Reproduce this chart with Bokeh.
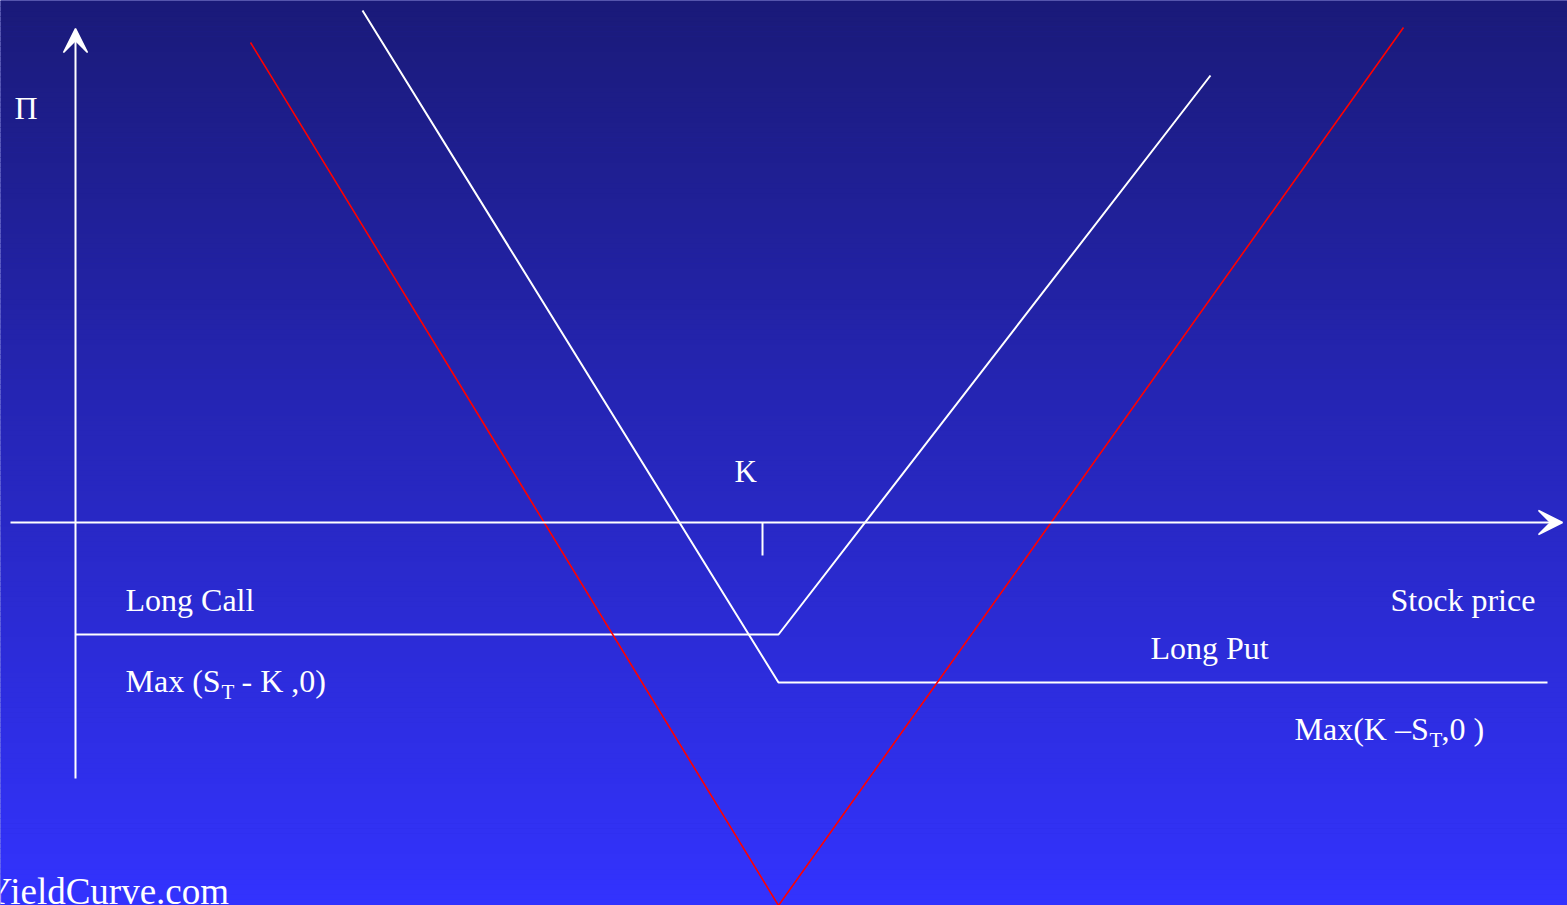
import numpy as np
from bokeh.plotting import figure
from bokeh.models import Range1d, Arrow, VeeHead
from bokeh.core.properties import value
from bokeh.embed import file_html
from bokeh.resources import INLINE

# ---- data (x = stock price units, y = payoff units) ----
axis_x = [10, 1562]                      # horizontal (stock price) axis extent
axis_y_bottom, axis_y_top = -256, 494    # vertical (payoff) axis extent
yaxis_x = 75
strike_x = 762
strike_tick = [0, -33]

call_x = [75, 778, 1210]
call_y = [-112, -112, 447]

put_x = [362, 778, 1547]
put_y = [512, -160, -160]

straddle_x = [250, 778, 1403]
straddle_y = [480, -383, 495]

top_color = np.array([26, 26, 120])
bottom_color = np.array([51, 51, 255])

FONT = value("Liberation Serif")

W, H = 1567, 905
Y0 = 522  # payoff zero line, in screen pixels from top
p = figure(width=W, height=H, output_backend="svg", toolbar_location=None,
           x_range=Range1d(0, W), y_range=Range1d(Y0 - H, Y0),
           min_border=0, min_border_left=0, min_border_right=0,
           min_border_top=0, min_border_bottom=0)
p.axis.visible = False
p.grid.visible = False
p.outline_line_color = None
p.background_fill_color = "#2828c8"
p.border_fill_color = "#2828c8"

# vertical gradient background
n = 181
edges = np.linspace(Y0 - H - 4, Y0 + 4, n + 1)
cols = []
for i in range(n):
    t = 1 - (i + 0.5) / n  # 0 at top, 1 at bottom
    c = top_color + (bottom_color - top_color) * t
    cols.append("#%02x%02x%02x" % tuple(int(round(v)) for v in c))
p.quad(left=-10, right=W + 10, bottom=edges[:-1], top=edges[1:] + 0.6,
       fill_color=cols, line_color=None)

# axes with arrows
head = dict(size=24, fill_color="white", line_color="white", line_width=1.5)
p.add_layout(Arrow(end=VeeHead(**head),
                   x_start=axis_x[0], y_start=0, x_end=axis_x[1], y_end=0,
                   line_color="white", line_width=2))
p.add_layout(Arrow(end=VeeHead(**head),
                   x_start=yaxis_x, y_start=axis_y_bottom, x_end=yaxis_x, y_end=axis_y_top,
                   line_color="white", line_width=2))

# strike tick
p.line([strike_x, strike_x], strike_tick, line_color="white", line_width=2)

# payoff lines
p.line(call_x, call_y, line_color="white", line_width=2)
p.line(put_x, put_y, line_color="white", line_width=2)
p.line(straddle_x, straddle_y, line_color="#ff0000", line_width=1.6)

DY = 12  # baseline correction

def txt(x, ypix, s, size=32):
    p.text(x=[x], y=[Y0 - ypix + DY], text=[s], text_color="white", text_font=FONT,
           text_font_size="%dpx" % size, text_baseline="alphabetic", text_align="left")

txt(14, 119, "Π", 32)
txt(734, 483, "K", 31)
txt(125, 611, "Long Call")
txt(1390, 611, "Stock price")
txt(1150, 659, "Long Put")

txt(125, 692, "Max (S")
txt(221, 703, "T", 21)
txt(241, 692, "- K ,0)")

txt(1294, 740, "Max(K –S")
txt(1429, 751, "T", 21)
txt(1441, 740, ",0 )")

txt(-15, 903, "YieldCurve.com", 37)

open("out.html", "w").write(file_html(p, INLINE))
